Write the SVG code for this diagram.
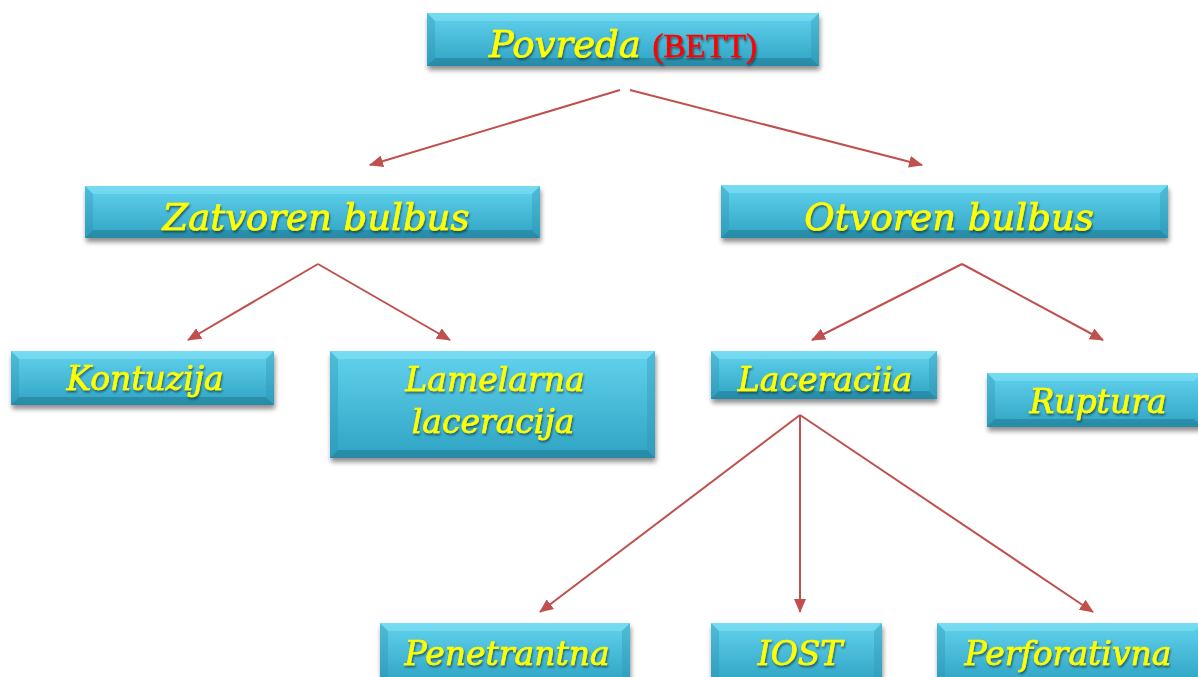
<svg xmlns="http://www.w3.org/2000/svg" width="1198" height="677" viewBox="0 0 1198 677">
<style>
.box{fill:url(#g)}
.bt{fill:#8ee6f8;opacity:0.45}
.bb{fill:#1d6f86;opacity:0.45}
.bs{fill:#2a92b0;opacity:0.35}
.t{font-family:"DejaVu Serif","Liberation Serif",serif;font-style:italic;fill:#ffff00;stroke:#ffff00;stroke-width:0.7;text-anchor:middle;filter:url(#ts)}
.l1{font-size:37px}
.l2{font-size:33px}
.red{fill:#ff0000;stroke:#ff0000;stroke-width:0.5;font-style:normal;font-family:"Liberation Serif",serif}
.c{stroke:#c0504d;stroke-width:2;fill:none;marker-end:url(#a)}
</style>
<defs>
<linearGradient id="g" x1="0" y1="0" x2="0" y2="1">
<stop offset="0" stop-color="#62d3ee"/>
<stop offset="1" stop-color="#2fa3c3"/>
</linearGradient>
<filter id="sh" x="-5%" y="-20%" width="110%" height="150%">
<feGaussianBlur in="SourceAlpha" stdDeviation="2.5"/>
<feOffset dx="1" dy="4"/>
<feComponentTransfer><feFuncA type="linear" slope="0.45"/></feComponentTransfer>
<feMerge><feMergeNode/><feMergeNode in="SourceGraphic"/></feMerge>
</filter>
<filter id="ts" x="-5%" y="-10%" width="110%" height="130%">
<feGaussianBlur in="SourceAlpha" stdDeviation="1"/>
<feOffset dx="1" dy="1.5"/>
<feComponentTransfer><feFuncA type="linear" slope="0.5"/></feComponentTransfer>
<feMerge><feMergeNode/><feMergeNode in="SourceGraphic"/></feMerge>
</filter>
<marker id="a" markerWidth="14" markerHeight="12" refX="13" refY="6" orient="auto" markerUnits="userSpaceOnUse">
<path d="M0,0 L14,6 L0,12 z" fill="#c0504d"/>
</marker>
</defs>

<g id="connectors">
<line class="c" x1="620" y1="90" x2="370" y2="165"/>
<line class="c" x1="630" y1="90" x2="922" y2="165"/>
<line class="c" x1="318" y1="264" x2="188" y2="340"/>
<line class="c" x1="318" y1="264" x2="450" y2="340"/>
<line class="c" x1="962" y1="264" x2="812" y2="340"/>
<line class="c" x1="962" y1="264" x2="1103" y2="340"/>
<line class="c" x1="800" y1="415" x2="540" y2="612"/>
<line class="c" x1="800" y1="415" x2="800" y2="612"/>
<line class="c" x1="800" y1="415" x2="1093" y2="612"/>
</g>

<g id="povreda" filter="url(#sh)">
<rect class="box" x="427" y="13" width="392" height="53"/>
<polygon class="bt" points="427,13 819,13 811,21 435,21"/>
<polygon class="bb" points="427,66 819,66 811,58 435,58"/>
<polygon class="bs" points="427,13 435,21 435,58 427,66"/>
<polygon class="bs" points="819,13 811,21 811,58 819,66"/>
<text class="t l1" x="623" y="57"><tspan>Povreda </tspan><tspan class="red" font-size="33">(BETT)</tspan></text>
</g>

<g id="zatvoren" filter="url(#sh)">
<rect class="box" x="85" y="186" width="455" height="52"/>
<polygon class="bt" points="85,186 540,186 532,194 93,194"/>
<polygon class="bb" points="85,238 540,238 532,230 93,230"/>
<polygon class="bs" points="85,186 93,194 93,230 85,238"/>
<polygon class="bs" points="540,186 532,194 532,230 540,238"/>
<text class="t l1" x="316" y="230">Zatvoren bulbus</text>
</g>

<g id="otvoren" filter="url(#sh)">
<rect class="box" x="721" y="185" width="447" height="53"/>
<polygon class="bt" points="721,185 1168,185 1160,193 729,193"/>
<polygon class="bb" points="721,238 1168,238 1160,230 729,230"/>
<polygon class="bs" points="721,185 729,193 729,230 721,238"/>
<polygon class="bs" points="1168,185 1160,193 1160,230 1168,238"/>
<text class="t l1" x="949" y="230">Otvoren bulbus</text>
</g>

<g id="kontuzija" filter="url(#sh)">
<rect class="box" x="11" y="351" width="263" height="54"/>
<polygon class="bt" points="11,351 274,351 266,359 19,359"/>
<polygon class="bb" points="11,405 274,405 266,397 19,397"/>
<polygon class="bs" points="11,351 19,359 19,397 11,405"/>
<polygon class="bs" points="274,351 266,359 266,397 274,405"/>
<text class="t l2" x="145" y="390">Kontuzija</text>
</g>

<g id="lamelarna" filter="url(#sh)">
<rect class="box" x="330" y="351" width="325" height="107"/>
<polygon class="bt" points="330,351 655,351 647,359 338,359"/>
<polygon class="bb" points="330,458 655,458 647,450 338,450"/>
<polygon class="bs" points="330,351 338,359 338,450 330,458"/>
<polygon class="bs" points="655,351 647,359 647,450 655,458"/>
<text class="t l2" x="495" y="391">Lamelarna</text>
<text class="t l2" x="493" y="433">laceracija</text>
</g>

<g id="laceraciia" filter="url(#sh)">
<rect class="box" x="711" y="351" width="226" height="48"/>
<polygon class="bt" points="711,351 937,351 929,359 719,359"/>
<polygon class="bb" points="711,399 937,399 929,391 719,391"/>
<polygon class="bs" points="711,351 719,359 719,391 711,399"/>
<polygon class="bs" points="937,351 929,359 929,391 937,399"/>
<text class="t l2" x="825" y="391">Laceraciia</text>
</g>

<g id="ruptura" filter="url(#sh)">
<rect class="box" x="987" y="373" width="215" height="54"/>
<polygon class="bt" points="987,373 1202,373 1194,381 995,381"/>
<polygon class="bb" points="987,427 1202,427 1194,419 995,419"/>
<polygon class="bs" points="987,373 995,381 995,419 987,427"/>
<text class="t l2" x="1098" y="413">Ruptura</text>
</g>

<g id="penetrantna" filter="url(#sh)">
<rect class="box" x="380" y="623" width="250" height="60"/>
<polygon class="bt" points="380,623 630,623 622,631 388,631"/>
<polygon class="bs" points="380,623 388,631 388,683 380,683"/>
<polygon class="bs" points="630,623 622,631 622,683 630,683"/>
<text class="t l2" x="507" y="665">Penetrantna</text>
</g>

<g id="iost" filter="url(#sh)">
<rect class="box" x="711" y="623" width="171" height="60"/>
<polygon class="bt" points="711,623 882,623 874,631 719,631"/>
<polygon class="bs" points="711,623 719,631 719,683 711,683"/>
<polygon class="bs" points="882,623 874,631 874,683 882,683"/>
<text class="t l2" x="800" y="665">IOST</text>
</g>

<g id="perforativna" filter="url(#sh)">
<rect class="box" x="937" y="623" width="265" height="60"/>
<polygon class="bt" points="937,623 1202,623 1194,631 945,631"/>
<polygon class="bs" points="937,623 945,631 945,683 937,683"/>
<text class="t l2" x="1068" y="665">Perforativna</text>
</g>
</svg>
